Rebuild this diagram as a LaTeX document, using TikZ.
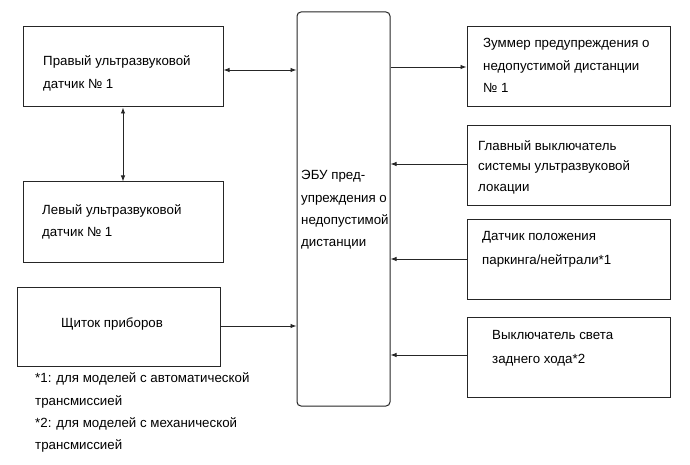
\documentclass[tikz,border=0pt]{standalone}
\usepackage{fontspec}
\setmainfont{Liberation Sans}
\usetikzlibrary{arrows.meta}
\tikzset{
  box/.style={draw=black!85, line width=1pt, inner sep=0pt, rectangle},
  lbl/.style={anchor=base west, inner sep=0pt, font=\fontsize{13.3}{16}\selectfont, text=black},
  arr/.style={draw=black!85, line width=0.9pt, -{Latex[length=6pt,width=4.5pt]}},
  darr/.style={draw=black!85, line width=0.9pt, {Latex[length=6pt,width=4.5pt]}-{Latex[length=6pt,width=4.5pt]}}
}
\begin{document}
\begin{tikzpicture}[x=1pt,y=-1pt]
\useasboundingbox[fill=white] (0,0) rectangle (690,465);
% boxes
\node[box, minimum width=200pt, minimum height=80pt] (RS) at (123,67) {};
\node[box, minimum width=200pt, minimum height=80pt] (LS) at (123,222) {};
\node[box, minimum width=203pt, minimum height=79pt] (SH) at (118.5,326.5) {};
\node[box, rounded corners=4pt, minimum width=93pt, minimum height=394pt] (ECU) at (343.5,209) {};
\node[box, minimum width=203pt, minimum height=80pt] (BZ) at (568.5,67) {};
\node[box, minimum width=203pt, minimum height=79pt] (MS) at (568.5,165.5) {};
\node[box, minimum width=203pt, minimum height=80pt] (PN) at (568.5,259) {};
\node[box, minimum width=203pt, minimum height=80pt] (BL) at (568.5,357) {};
% texts
\node[lbl] (rs1) at (43,66) {Правый ультразвуковой};
\node[lbl] (rs2) at (43,89) {датчик № 1};
\node[lbl] (ls1) at (42,214) {Левый ультразвуковой};
\node[lbl] (ls2) at (42,236) {датчик № 1};
\node[lbl] (sh1) at (61,327) {Щиток приборов};
\node[lbl] (e1) at (301,179) {ЭБУ пред-};
\node[lbl] (e2) at (301,202) {упреждения о};
\node[lbl] (e3) at (301,224) {недопустимой};
\node[lbl] (e4) at (301,246) {дистанции};
\node[lbl] (bz1) at (483,48) {Зуммер предупреждения о};
\node[lbl] (bz2) at (483,71) {недопустимой дистанции};
\node[lbl] (bz3) at (483,93) {№ 1};
\node[lbl] (ms1) at (478,151) {Главный выключатель};
\node[lbl] (ms2) at (478,171) {системы ультразвуковой};
\node[lbl] (ms3) at (478,192) {локации};
\node[lbl] (pn1) at (482,240) {Датчик положения};
\node[lbl] (pn2) at (482,264) {паркинга/нейтрали*1};
\node[lbl] (bl1) at (492,339) {Выключатель света};
\node[lbl] (bl2) at (492,363) {заднего хода*2};
\node[lbl] (f1) at (35,382) {*1: для моделей с автоматической};
\node[lbl] (f2) at (35,405) {трансмиссией};
\node[lbl] (f3) at (35,427) {*2: для моделей с механической};
\node[lbl] (f4) at (35,449) {трансмиссией};
% connectors
\draw[darr] (RS.east |- {(0,70)}) -- (ECU.west |- {(0,70)});
\draw[darr] (RS.south) -- (LS.north);
\draw[arr] (SH.east |- {(0,326)}) -- (ECU.west |- {(0,326)});
\draw[arr] (ECU.east |- {(0,67)}) -- (BZ.west |- {(0,67)});
\draw[arr] (MS.west |- {(0,164)}) -- (ECU.east |- {(0,164)});
\draw[arr] (PN.west |- {(0,259)}) -- (ECU.east |- {(0,259)});
\draw[arr] (BL.west |- {(0,355)}) -- (ECU.east |- {(0,355)});
\end{tikzpicture}
\end{document}
